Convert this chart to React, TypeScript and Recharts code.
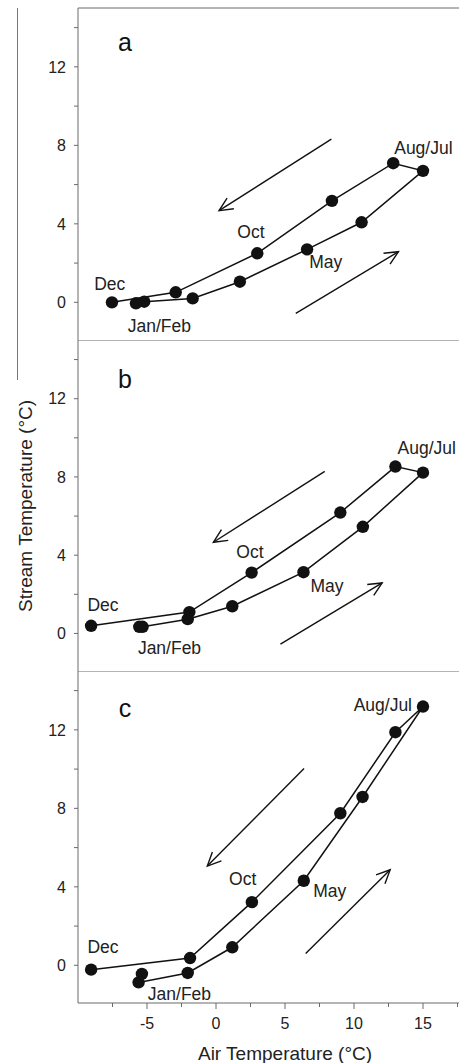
import React from 'react';
import { ScatterChart, Scatter, XAxis, YAxis, ReferenceLine } from 'recharts';

const months = ['Jan', 'Feb', 'Mar', 'Apr', 'May', 'Jun', 'Jul', 'Aug', 'Sep', 'Oct', 'Nov', 'Dec'];

// Panel a
const airA = [-5.8, -5.2, -1.69, 1.73, 6.6, 10.55, 15.0, 12.84, 8.4, 2.99, -2.92, -7.54];
const streamA = [-0.05, 0.03, 0.2, 1.05, 2.7, 4.08, 6.7, 7.09, 5.17, 2.5, 0.51, 0.0];
// Panel b
const airB = [-5.56, -5.32, -2.05, 1.18, 6.34, 10.64, 15.0, 13.0, 9.01, 2.58, -1.93, -9.05];
const streamB = [0.34, 0.34, 0.73, 1.39, 3.13, 5.45, 8.22, 8.53, 6.18, 3.11, 1.09, 0.39];
// Panel c
const airC = [-5.37, -5.61, -2.05, 1.18, 6.36, 10.62, 15.0, 13.0, 9.01, 2.6, -1.88, -9.05];
const streamC = [-0.44, -0.87, -0.39, 0.92, 4.31, 8.58, 13.19, 11.88, 7.75, 3.22, 0.37, -0.22];

const annotationTexts = ['Dec', 'Jan/Feb', 'Oct', 'May', 'Aug/Jul'];
const annotA_x = [-7.7, -4.1, 2.53, 7.95, 15.03];
const annotA_y = [0.92, -1.21, 3.57, 2.07, 7.89];
const annotB_x = [-8.19, -3.37, 2.46, 8.04, 15.27];
const annotB_y = [1.45, -0.73, 4.17, 2.43, 9.5];
const annotC_x = [-8.19, -2.65, 1.93, 8.24, 12.09];
const annotC_y = [0.93, -1.45, 4.39, 3.79, 13.28];

// arrows: [x1, y1, x2, y2] (tail -> head), in data units
const arrowsA = [[8.36, 8.32, 0.22, 4.67], [5.78, -0.56, 13.22, 2.58]];
const arrowsB = [[7.88, 8.28, -0.19, 4.66], [4.67, -0.55, 12.04, 2.58]];
const arrowsC = [[6.38, 10.03, -0.63, 5.06], [6.5, 0.6, 12.62, 4.87]];

const panelLetters = ['a', 'b', 'c'];
const letterX = -6.6;
const letterY = [12.79, 12.53, 12.68];

const xDomain = [-10, 20];
const yDomain = [-1.92, 15];
const xTicks = [-7.5, -5, -2.5, 0, 2.5, 5, 7.5, 10, 12.5, 15, 17.5];
const xTickLabels = [-5, 0, 5, 10, 15];
const yTicks = [0, 2, 4, 6, 8, 10, 12, 14];
const yTickLabels = [0, 4, 8, 12];

const FONT = '"Liberation Sans", Arial, sans-serif';
const AXIS = '#6a6a6a';
const INK = '#111';

const toPoints = (xs: number[], ys: number[]) => xs.map((x, i) => ({ x, y: ys[i], m: months[i] }));
const toLabels = (xs: number[], ys: number[]) => xs.map((x, i) => ({ x, y: ys[i], label: annotationTexts[i] }));

const YTick = (props: any) => {
  const { x, y, payload } = props;
  if (!yTickLabels.includes(payload.value)) return <g />;
  return (
    <text x={x} y={y} dy="0.355em" textAnchor="end" fontSize={16} fill="#222" fontFamily={FONT}>
      {payload.value}
    </text>
  );
};

const X_TICK_SIZE = 6;
const X_TICK_MARGIN = 9;
const XTick = (props: any) => {
  const { x, y, payload } = props;
  const major = xTickLabels.includes(payload.value);
  const axisY = y - X_TICK_SIZE - X_TICK_MARGIN;
  return (
    <g>
      <line x1={x} x2={x} y1={axisY} y2={axisY + (major ? 6 : 4)} stroke={AXIS} strokeWidth={1} />
      {major && (
        <text x={x} y={y} dy="0.71em" textAnchor="middle" fontSize={16} fill="#222" fontFamily={FONT}>
          {payload.value}
        </text>
      )}
    </g>
  );
};

const Dot = (props: any) => <circle cx={props.cx} cy={props.cy} r={6.2} fill={INK} />;

const LabelShape = (props: any) => (
  <text x={props.cx} y={props.cy} dy="0.355em" textAnchor="middle" fontSize={17.5} fill="#222" fontFamily={FONT}>
    {props.payload.label}
  </text>
);

const LetterShape = (props: any) => (
  <text x={props.cx} y={props.cy} textAnchor="middle" fontSize={25} fill="#111" fontFamily={FONT}>
    {props.payload.label}
  </text>
);

const ArrowShape = (props: any) => {
  const { x1, y1, x2, y2 } = props;
  const ang = Math.atan2(y1 - y2, x1 - x2);
  const L = 15;
  const a = (25 * Math.PI) / 180;
  const w1x = x2 + L * Math.cos(ang + a);
  const w1y = y2 + L * Math.sin(ang + a);
  const w2x = x2 + L * Math.cos(ang - a);
  const w2y = y2 + L * Math.sin(ang - a);
  return (
    <g>
      <line x1={x1} y1={y1} x2={x2} y2={y2} stroke={INK} strokeWidth={1.4} />
      <polyline points={`${w1x},${w1y} ${x2},${y2} ${w2x},${w2y}`} fill="none" stroke={INK} strokeWidth={1.4} />
    </g>
  );
};

type PanelProps = {
  air: number[];
  stream: number[];
  annX: number[];
  annY: number[];
  arrows: number[][];
  letterIdx: number;
  top: number;
  marginTop: number;
  plotHeight: number;
  showX: boolean;
  yTitle?: boolean;
};

const Panel = ({ air, stream, annX, annY, arrows, letterIdx, top, marginTop, plotHeight, showX, yTitle }: PanelProps) => {
  const xAxisH = showX ? 60 : 0;
  const height = marginTop + plotHeight + xAxisH;
  const points = toPoints(air, stream);
  const labels = toLabels(annX, annY);
  const letter = [{ x: letterX, y: letterY[letterIdx], label: panelLetters[letterIdx] }];
  return (
    <div style={{ position: 'absolute', left: 0, top }}>
      <ScatterChart width={492} height={height} margin={{ top: marginTop, right: 0, bottom: 0, left: 0 }}>
        <XAxis
          type="number"
          dataKey="x"
          domain={xDomain}
          ticks={xTicks}
          interval={0}
          allowDataOverflow
          hide={!showX}
          height={xAxisH}
          tickSize={X_TICK_SIZE}
          tickMargin={X_TICK_MARGIN}
          tickLine={false}
          tick={<XTick />}
          axisLine={{ stroke: AXIS, strokeWidth: 1 }}
          label={
            showX
              ? { value: 'Air Temperature (°C)', position: 'insideBottom', offset: 3, fontSize: 19, fill: '#222', fontFamily: FONT }
              : undefined
          }
        />
        <YAxis
          type="number"
          dataKey="y"
          domain={yDomain}
          ticks={yTicks}
          interval={0}
          allowDataOverflow
          width={78}
          tickSize={4}
          tickMargin={8}
          tick={<YTick />}
          tickLine={{ stroke: AXIS, strokeWidth: 1 }}
          axisLine={{ stroke: AXIS, strokeWidth: 1 }}
          label={
            yTitle
              ? {
                  content: () => (
                    <text
                      x={25}
                      y={166}
                      transform="rotate(-90 25 166)"
                      textAnchor="middle"
                      dy="0.355em"
                      fontSize={19}
                      fill="#222"
                      fontFamily={FONT}
                    >
                      Stream Temperature (°C)
                    </text>
                  ),
                }
              : undefined
          }
        />
        <ReferenceLine y={yDomain[1]} stroke={AXIS} strokeWidth={1} />
        {arrows.map((a, i) => (
          <ReferenceLine
            key={i}
            segment={[{ x: a[0], y: a[1] }, { x: a[2], y: a[3] }]}
            shape={<ArrowShape />}
            ifOverflow="visible"
          />
        ))}
        <Scatter
          data={points}
          line={{ stroke: INK, strokeWidth: 1.5 }}
          shape={<Dot />}
          isAnimationActive={false}
        />
        <Scatter data={labels} shape={<LabelShape />} isAnimationActive={false} />
        <Scatter data={letter} shape={<LetterShape />} isAnimationActive={false} />
      </ScatterChart>
    </div>
  );
};

export default function App() {
  return (
    <div
      style={{
        position: 'fixed',
        left: 0,
        top: 0,
        width: 459,
        height: 1063,
        overflow: 'hidden',
        background: '#fff',
        fontFamily: FONT,
      }}
    >
      <div style={{ position: 'absolute', left: 17, top: 8, width: 1.2, height: 372, background: '#777' }} />
      <Panel air={airA} stream={streamA} annX={annotA_x} annY={annotA_y} arrows={arrowsA} letterIdx={0} top={0} marginTop={8} plotHeight={332} showX={false} />
      <Panel air={airB} stream={streamB} annX={annotB_x} annY={annotB_y} arrows={arrowsB} letterIdx={1} top={340} marginTop={0} plotHeight={331} showX={false} yTitle />
      <Panel air={airC} stream={streamC} annX={annotC_x} annY={annotC_y} arrows={arrowsC} letterIdx={2} top={671} marginTop={0} plotHeight={332} showX />
    </div>
  );
}
